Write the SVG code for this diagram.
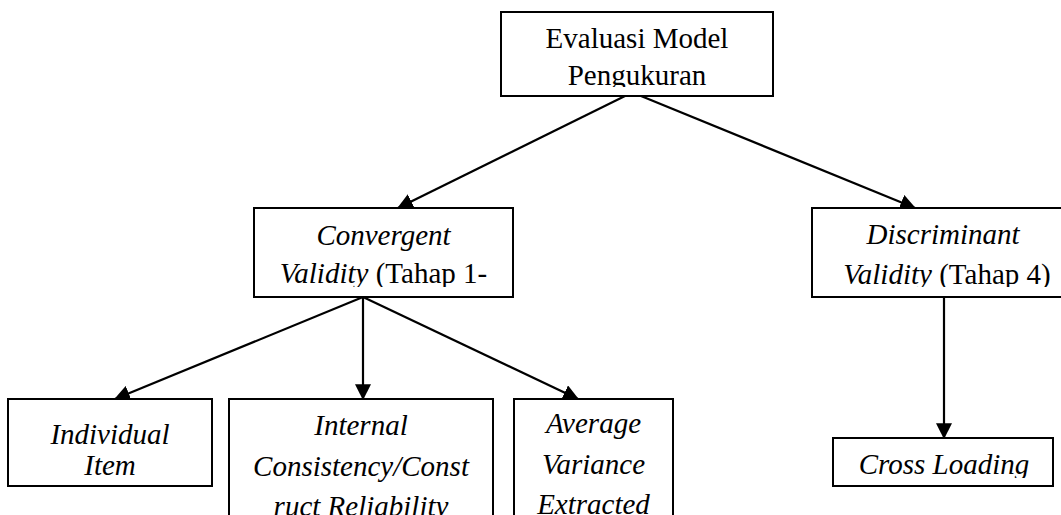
<svg xmlns="http://www.w3.org/2000/svg" width="1061" height="515" viewBox="0 0 1061 515">
<style>
.box{fill:#fff;stroke:#000;stroke-width:2}
.t{font-family:"Liberation Serif","Times New Roman",serif;font-size:29px;fill:#000;text-anchor:middle}
.i{font-style:italic}
.c{stroke:#000;stroke-width:2.2;fill:none;marker-end:url(#ah)}
</style>
<defs>
<marker id="ah" markerUnits="userSpaceOnUse" markerWidth="16" markerHeight="16" viewBox="0 0 14 14" refX="13" refY="7" orient="auto">
<path d="M0,0 L14,7 L0,14 Z" fill="#000"/>
</marker>
<clipPath id="cTop"><rect x="501" y="12" width="272" height="75"/></clipPath>
<clipPath id="cConv"><rect x="254" y="208" width="259" height="79"/></clipPath>
<clipPath id="cDisc"><rect x="812" y="208" width="270" height="79"/></clipPath>
<clipPath id="cCross"><rect x="833" y="438" width="220" height="40"/></clipPath>
</defs>
<rect width="1061" height="515" fill="#fff"/>
<g id="connectors">
<line class="c" x1="625" y1="96" x2="398" y2="208"/>
<line class="c" x1="641" y1="96" x2="915" y2="208"/>
<line class="c" x1="363" y1="297" x2="115" y2="399"/>
<line class="c" x1="363" y1="297" x2="363" y2="399"/>
<line class="c" x1="363" y1="297" x2="578" y2="399"/>
<line class="c" x1="944" y1="297" x2="944" y2="438"/>
</g>
<g id="evaluasi">
<rect class="box" x="501" y="12" width="272" height="84"/>
<g clip-path="url(#cTop)">
<text class="t" x="637" y="48">Evaluasi Model</text>
<text class="t" x="637" y="85">Pengukuran</text>
</g>
</g>
<g id="convergent">
<rect class="box" x="254" y="208" width="259" height="89"/>
<g clip-path="url(#cConv)">
<text class="t i" x="383.5" y="245">Convergent</text>
<text class="t" x="383.5" y="283"><tspan class="i">Validity</tspan> (Tahap 1-</text>
</g>
</g>
<g id="discriminant">
<rect class="box" x="812" y="208" width="270" height="89"/>
<g clip-path="url(#cDisc)">
<text class="t i" x="943" y="244">Discriminant</text>
<text class="t" x="947" y="284"><tspan class="i">Validity</tspan> (Tahap 4)</text>
</g>
</g>
<g id="individual">
<rect class="box" x="8" y="399" width="204" height="87"/>
<text class="t i" x="110" y="444">Individual</text>
<text class="t i" x="110" y="475">Item</text>
</g>
<g id="internal">
<rect class="box" x="229" y="399" width="264" height="130"/>
<text class="t i" x="361" y="435">Internal</text>
<text class="t i" x="361" y="476">Consistency/Const</text>
<text class="t i" x="361" y="516">ruct Reliability</text>
</g>
<g id="average">
<rect class="box" x="514" y="399" width="159" height="130"/>
<text class="t i" x="593.5" y="433">Average</text>
<text class="t i" x="593.5" y="474">Variance</text>
<text class="t i" x="593.5" y="514">Extracted</text>
</g>
<g id="cross">
<rect class="box" x="833" y="438" width="220" height="48"/>
<g clip-path="url(#cCross)">
<text class="t i" x="944" y="474">Cross Loading</text>
</g>
</g>
</svg>
